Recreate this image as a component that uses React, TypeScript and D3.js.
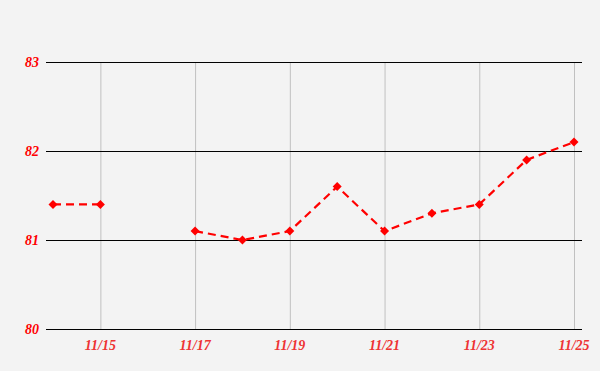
import React from "react";
import * as d3 from "d3";

const dates = ["11/14","11/15","11/16","11/17","11/18","11/19","11/20","11/21","11/22","11/23","11/24","11/25"];
const values: (number | null)[] = [81.4, 81.4, null, 81.1, 81.0, 81.1, 81.6, 81.1, 81.3, 81.4, 81.9, 82.1];
const yTicks = [80, 81, 82, 83];
const xTickLabels = ["11/15","11/17","11/19","11/21","11/23","11/25"];

export default function App() {
  const W = 600, H = 371;
  const x = d3.scaleLinear().domain([0, dates.length - 1]).range([53, 574]);
  const y = d3.scaleLinear().domain([80, 83]).range([329, 62]);
  const left = 46, right = 582;
  const pts = values.map((v, i) => ({ i, v }));
  const line = d3.line<{ i: number; v: number | null }>()
    .defined(d => d.v !== null)
    .x(d => x(d.i))
    .y(d => y(d.v as number));
  const diamond = (cx: number, cy: number, r: number) =>
    `M${cx},${cy - r}L${cx + r},${cy}L${cx},${cy + r}L${cx - r},${cy}Z`;
  return (
    <svg width={W} height={H} style={{ position: "absolute", left: 0, top: 0, display: "block" }}>
      <rect x={0} y={0} width={W} height={H} fill="#f3f3f3" />
      {xTickLabels.map(t => {
        const i = dates.indexOf(t);
        return <line key={"v" + t} x1={x(i) + 0.5} x2={x(i) + 0.5} y1={62} y2={329} stroke="#c0c0c0" strokeWidth={1} />;
      })}
      {yTicks.map(t => (
        <g key={"h" + t}>
          <line x1={left} x2={right} y1={Math.round(y(t)) + 0.5} y2={Math.round(y(t)) + 0.5} stroke="#000" strokeWidth={1} />
          <text x={39} y={y(t) + 5} textAnchor="end" fill="#ff0000" fontFamily="'Liberation Serif', serif" fontStyle="italic" fontWeight="bold" fontSize={14}>{t}</text>
        </g>
      ))}
      {xTickLabels.map(t => {
        const i = dates.indexOf(t);
        return <text key={"xl" + t} x={x(i)} y={350} textAnchor="middle" fill="#ee3333" fontFamily="'Liberation Serif', serif" fontStyle="italic" fontWeight="bold" fontSize={14}>{t}</text>;
      })}
      <path d={line(pts) || ""} fill="none" stroke="#ff0000" strokeWidth={2.2} strokeDasharray="8,5" />
      {pts.filter(p => p.v !== null).map(p => (
        <path key={"m" + p.i} d={diamond(x(p.i), y(p.v as number), 4.5)} fill="#ff0000" />
      ))}
    </svg>
  );
}
